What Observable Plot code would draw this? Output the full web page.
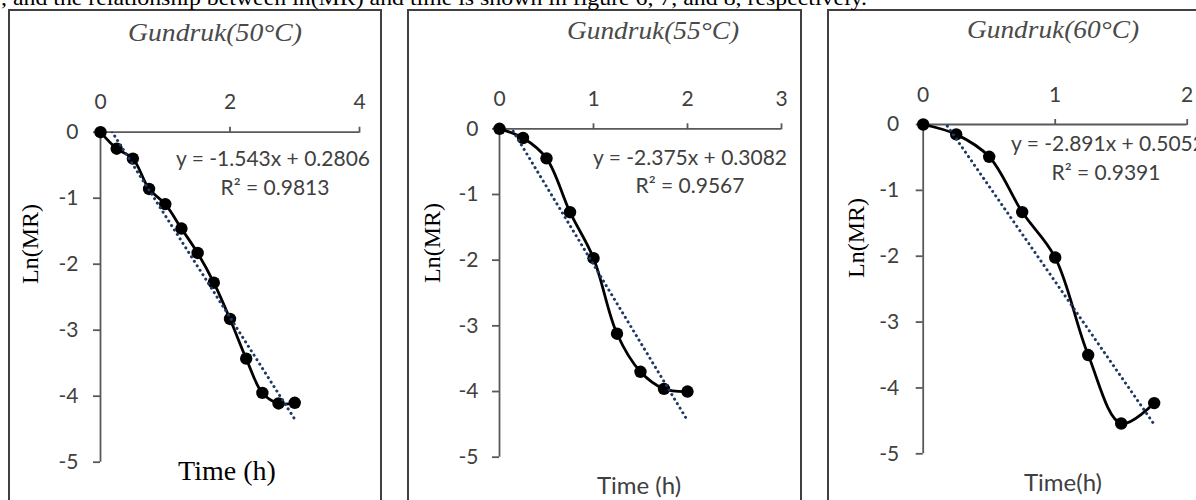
<!DOCTYPE html>
<html><head><meta charset="utf-8">
<script src="https://cdn.jsdelivr.net/npm/d3@7"></script>
<script src="https://cdn.jsdelivr.net/npm/@observablehq/plot@0.6"></script>
<style>
body{margin:0;background:#fff;}
#wrap{position:relative;width:1196px;height:500px;overflow:hidden;background:#fff;}
#wrap > svg{position:absolute;top:0;}
</style></head><body><div id="wrap"></div>
<script>
// ---- data ----
const titles = ["Gundruk(50°C)", "Gundruk(55°C)", "Gundruk(60°C)"];
const time50 = [0, 0.25, 0.5, 0.75, 1, 1.25, 1.5, 1.75, 2, 2.25, 2.5, 2.75, 3];
const lnmr50 = [0, -0.25, -0.40, -0.86, -1.09, -1.46, -1.83, -2.28, -2.83, -3.43, -3.95, -4.11, -4.10];
const time55 = [0, 0.25, 0.5, 0.75, 1, 1.25, 1.5, 1.75, 2];
const lnmr55 = [0, -0.14, -0.45, -1.27, -1.97, -3.12, -3.70, -3.96, -4.00];
const time60 = [0, 0.25, 0.5, 0.75, 1, 1.25, 1.5, 1.75];
const lnmr60 = [0, -0.15, -0.49, -1.33, -2.02, -3.50, -4.54, -4.23];
const slopes = [-1.543, -2.375, -2.891];
const intercepts = [0.2806, 0.3082, 0.5052];
const r2 = ["0.9813", "0.9567", "0.9391"];
const xTicks50 = [0, 2, 4];
const xTicks55 = [0, 1, 2, 3];
const xTicks60 = [0, 1, 2];
const yTicks = [0, -1, -2, -3, -4, -5];
const xLabels = ["Time (h)", "Time (h)", "Time(h)"];
const yLabel = "Ln(MR)";
const sentence = ", and the relationship between ln(MR) and time is shown in figure 6, 7, and 8, respectively.";

// ---- layout ----
const layouts = [
  {left: 0,   w: 381, ml: 100,   mr: 22,  mt: 131.7, mb: 38.3, xpad: 17, ypad: 15},
  {left: 400, w: 400, ml: 99,    mr: 19,  mt: 128.3, mb: 43.3, xpad: 17, ypad: 14},
  {left: 820, w: 376, ml: 102.7, mr: 9.3, mt: 124,   mb: 46.7, xpad: 17, ypad: 17}
];
const series = [[time50, lnmr50, xTicks50], [time55, lnmr55, xTicks55], [time60, lnmr60, xTicks60]];

const wrap = document.getElementById("wrap");

series.forEach(([time, lnmr, xTicks], i) => {
  const L = layouts[i];
  const data = time.map((t, k) => ({t, v: lnmr[k]}));
  const tmax = d3.max(time);
  const trend = [0, tmax].map(t => ({t, v: intercepts[i] + slopes[i] * t}));
  const svg = Plot.plot({
    width: L.w, height: 500,
    marginLeft: L.ml, marginRight: L.mr, marginTop: L.mt, marginBottom: L.mb,
    x: {domain: [0, d3.max(xTicks)]},
    y: {domain: [-5, 0]},
    style: {fontFamily: "Lato, sans-serif", color: "#404040", background: "transparent", overflow: "visible"},
    marks: [
      Plot.ruleY([0], {stroke: "#595959", strokeWidth: 1.8}),
      Plot.ruleX([0], {stroke: "#595959", strokeWidth: 1.8}),
      Plot.axisX({anchor: "top", ticks: xTicks, tickSize: 6, tickPadding: L.xpad, label: null,
        tickFormat: d => String(d), fontSize: 21, stroke: "#595959", strokeWidth: 1.8}),
      Plot.axisY({anchor: "left", ticks: yTicks, tickSize: 7, tickPadding: L.ypad, label: null,
        tickFormat: d => String(d), fontSize: 21, stroke: "#595959", strokeWidth: 1.8}),
      Plot.line(data, {x: "t", y: "v", curve: "catmull-rom", stroke: "#000", strokeWidth: 2.8}),
      Plot.dot(data, {x: "t", y: "v", r: 6.2, fill: "#000"}),
      Plot.line(trend, {x: "t", y: "v", stroke: "#1F3864", strokeWidth: 3,
        strokeDasharray: "0.1 5.2", strokeLinecap: "round", clip: true})
    ]
  });
  svg.style.left = L.left + "px";
  wrap.appendChild(svg);
});

// ---- overlay: frames and texts ----
const ov = d3.select(wrap).append("svg")
  .attr("width", 1196).attr("height", 500)
  .style("left", "0px").style("pointer-events", "none");

const frames = [[9, 10, 372], [408, 10, 393], [828, 10, 400]];
frames.forEach(([x, y, w]) => ov.append("rect").attr("x", x).attr("y", y).attr("width", w).attr("height", 600)
  .attr("fill", "none").attr("stroke", "#404040").attr("stroke-width", 2));

ov.append("text").text(sentence).attr("x", 1).attr("y", 5)
  .attr("font-family", "Liberation Serif").attr("font-size", 22).attr("fill", "#000")
  .attr("textLength", 866).attr("lengthAdjust", "spacingAndGlyphs");

const titlePos = [[215, 41, 174], [653, 39, 172], [1053, 38, 172]];
titlePos.forEach(([x, y, len], i) => ov.append("text").text(titles[i]).attr("x", x).attr("y", y)
  .attr("text-anchor", "middle").attr("font-family", "Liberation Serif").attr("font-style", "italic")
  .attr("font-size", 26).attr("fill", "#4a4a4a").attr("textLength", len).attr("lengthAdjust", "spacingAndGlyphs"));

const eqPos = [[370, 166, "end"], [787, 165, "end"], [1011, 151, "start"]];
const r2Pos = [[275, 195], [690, 193], [1106, 180]];
eqPos.forEach(([x, y, anchor], i) => {
  ov.append("text").text(`y = ${slopes[i]}x + ${intercepts[i]}`).attr("x", x).attr("y", y)
    .attr("text-anchor", anchor).attr("font-family", "Lato").attr("font-size", 21).attr("fill", "#404040");
  ov.append("text").text(`R² = ${r2[i]}`).attr("x", r2Pos[i][0]).attr("y", r2Pos[i][1])
    .attr("text-anchor", "middle").attr("font-family", "Lato").attr("font-size", 21).attr("fill", "#404040");
});

const xlPos = [[227, 480, "Liberation Serif", 28, "#000"], [639, 494, "Lato", 24, "#404040"], [1063, 491, "Lato", 24, "#404040"]];
xlPos.forEach(([x, y, fam, fs, col], i) => ov.append("text").text(xLabels[i]).attr("x", x).attr("y", y)
  .attr("text-anchor", "middle").attr("font-family", fam).attr("font-size", fs).attr("fill", col));

const ylPos = [[38, 244], [440, 243], [864, 238]];
ylPos.forEach(([x, y]) => ov.append("text").text(yLabel)
  .attr("transform", `translate(${x},${y}) rotate(-90)`).attr("text-anchor", "middle")
  .attr("font-family", "Liberation Serif").attr("font-size", 24).attr("fill", "#000"));
</script></body></html>
